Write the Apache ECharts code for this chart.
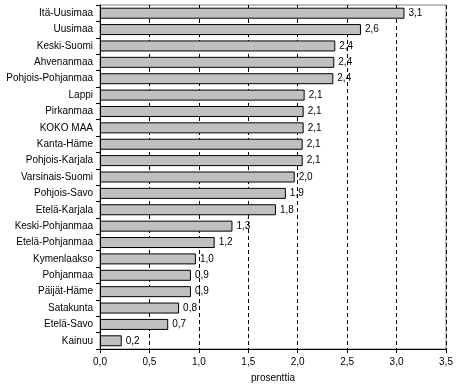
<!DOCTYPE html>
<html><head><meta charset="utf-8">
<script src="https://cdn.jsdelivr.net/npm/echarts@6/dist/echarts.min.js"></script>
<style>html,body{margin:0;padding:0;background:#fff}#c{width:459px;height:392px}</style>
</head><body><div id="c"></div>
<script>
var categories = ["Itä-Uusimaa","Uusimaa","Keski-Suomi","Ahvenanmaa","Pohjois-Pohjanmaa","Lappi","Pirkanmaa","KOKO MAA","Kanta-Häme","Pohjois-Karjala","Varsinais-Suomi","Pohjois-Savo","Etelä-Karjala","Keski-Pohjanmaa","Etelä-Pohjanmaa","Kymenlaakso","Pohjanmaa","Päijät-Häme","Satakunta","Etelä-Savo","Kainuu"];
var values = [3.08,2.64,2.38,2.37,2.36,2.07,2.06,2.06,2.05,2.05,1.97,1.88,1.78,1.34,1.16,0.97,0.92,0.92,0.80,0.69,0.22];
var axisTitle = "prosenttia";
var fmt = function(v){ return (Math.round(v*10)/10).toFixed(1).replace('.', ','); };
var chart = echarts.init(document.getElementById('c'), null, {renderer:'canvas'});
var font = 'Arial, "Liberation Sans", sans-serif';
chart.setOption({
  animation:false,
  grid:{left:100, right:13, top:5, bottom:43, show:true, borderColor:'#808080', borderWidth:1, backgroundColor:'transparent'},
  xAxis:{type:'value', min:0, max:3.5, interval:0.5,
    name:axisTitle, nameLocation:'middle', nameGap:24,
    nameTextStyle:{color:'#000', fontSize:10, fontFamily:font},
    axisLine:{show:true, lineStyle:{color:'#000', width:1}},
    axisTick:{show:true, length:4, lineStyle:{color:'#000'}},
    axisLabel:{color:'#000', fontSize:10, fontFamily:font, margin:8, formatter:fmt},
    splitLine:{show:true, lineStyle:{color:'#000', type:[4,3], width:1}}
  },
  yAxis:{type:'category', data:categories, inverse:true,
    axisLine:{show:true, lineStyle:{color:'#000', width:1}},
    axisTick:{show:true, length:4, lineStyle:{color:'#000'}},
    axisLabel:{color:'#000', fontSize:10, fontFamily:font, margin:7},
    splitLine:{show:false}
  },
  series:[{type:'bar', data:values, barWidth:11,
    itemStyle:{color:'#c0c0c0', borderColor:'#000', borderWidth:1},
    label:{show:true, position:'right', distance:4, color:'#000', fontSize:10, fontFamily:font,
      formatter:function(p){return fmt(p.value);}}
  }]
});
</script></body></html>
